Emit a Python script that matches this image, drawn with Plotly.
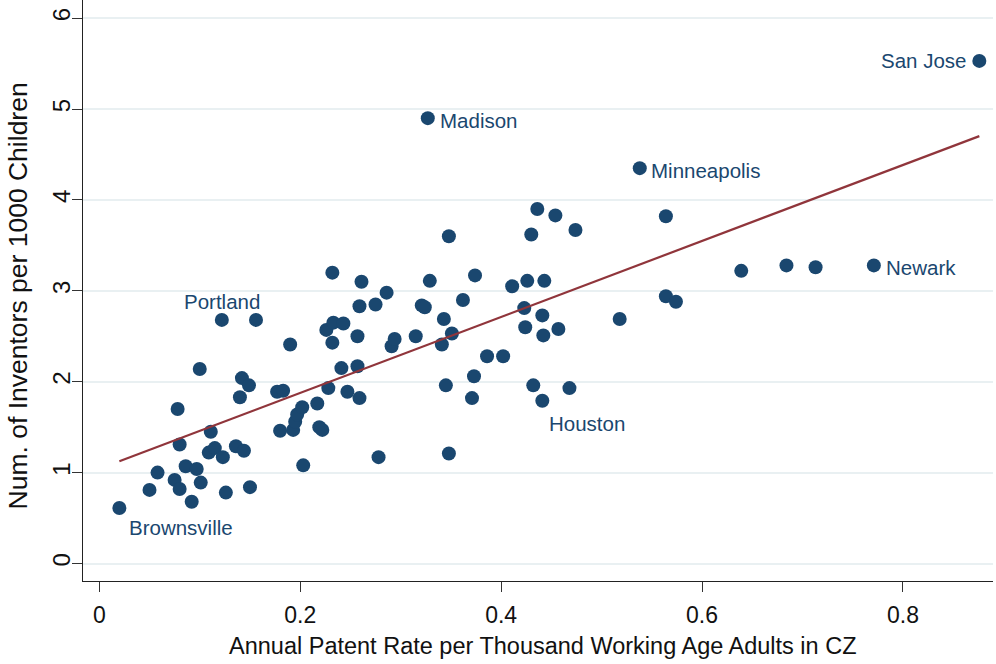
import numpy as np
import plotly.graph_objects as go

# Annual patent rate per thousand working-age adults, by commuting zone
patent_rate = [
    0.020, 0.050, 0.058, 0.075, 0.078, 0.080, 0.080, 0.086, 0.092, 0.097,
    0.100, 0.101, 0.109, 0.111, 0.115, 0.122, 0.123, 0.126, 0.136, 0.140,
    0.142, 0.144, 0.149, 0.150, 0.156, 0.177, 0.180, 0.183, 0.190, 0.193,
    0.195, 0.197, 0.202, 0.203, 0.217, 0.219, 0.222, 0.226, 0.228, 0.232,
    0.232, 0.233, 0.241, 0.243, 0.247, 0.257, 0.257, 0.259, 0.259, 0.261,
    0.275, 0.278, 0.286, 0.291, 0.294, 0.315, 0.321, 0.324, 0.327, 0.329,
    0.341, 0.343, 0.345, 0.348, 0.348, 0.351, 0.362, 0.371, 0.373, 0.374,
    0.386, 0.402, 0.411, 0.423, 0.424, 0.426, 0.430, 0.432, 0.436, 0.441,
    0.441, 0.442, 0.443, 0.454, 0.457, 0.468, 0.474, 0.518, 0.538, 0.564,
    0.564, 0.574, 0.639, 0.684, 0.713, 0.771, 0.876,
]

# Inventors per 1000 children, same commuting zones
inventors = [
    0.61, 0.81, 1.00, 0.92, 1.70, 1.31, 0.82, 1.07, 0.68, 1.04,
    2.14, 0.89, 1.22, 1.45, 1.27, 2.68, 1.17, 0.78, 1.29, 1.83,
    2.04, 1.24, 1.96, 0.84, 2.68, 1.89, 1.46, 1.90, 2.41, 1.47,
    1.56, 1.64, 1.72, 1.08, 1.76, 1.50, 1.47, 2.57, 1.93, 3.20,
    2.43, 2.65, 2.15, 2.64, 1.89, 2.50, 2.17, 1.82, 2.83, 3.10,
    2.85, 1.17, 2.98, 2.39, 2.47, 2.50, 2.84, 2.82, 4.90, 3.11,
    2.41, 2.69, 1.96, 3.60, 1.21, 2.53, 2.90, 1.82, 2.06, 3.17,
    2.28, 2.28, 3.05, 2.81, 2.60, 3.11, 3.62, 1.96, 3.90, 1.79,
    2.73, 2.51, 3.11, 3.83, 2.58, 1.93, 3.67, 2.69, 4.35, 3.82,
    2.94, 2.88, 3.22, 3.28, 3.26, 3.28, 5.53,
]

# Named commuting zones -> index of their point
labelled_cz = {
    "Brownsville": 0,
    "Portland": 15,
    "Madison": 58,
    "Houston": 79,
    "Minneapolis": 88,
    "Newark": 95,
    "San Jose": 96,
}

x_ticks = [0, 0.2, 0.4, 0.6, 0.8]
x_tick_text = ["0", "0.2", "0.4", "0.6", "0.8"]
y_ticks = [0, 1, 2, 3, 4, 5, 6]

# label placement: (xanchor, xshift, yshift)
label_style = {
    "Brownsville": ("left", 8, -19),
    "Portland": ("center", 0, 18),
    "Madison": ("left", 10, -2),
    "Houston": ("left", 5, -23),
    "Minneapolis": ("left", 9, -2),
    "Newark": ("left", 10, -2),
    "San Jose": ("right", -11, 0),
}

NAVY = "#1a476f"
MAROON = "#90353b"
FONT = "Liberation Sans, Arial, sans-serif"

W, H = 996, 664
ML, MR, MT, MB = 83, 3, 0, 83
PW, PH = W - ML - MR, H - MT - MB

x_arr = np.array(patent_rate)
y_arr = np.array(inventors)
slope, intercept = np.polyfit(x_arr, y_arr, 1)
fit_x = np.array([x_arr.min(), x_arr.max()])
fit_y = intercept + slope * fit_x

fig = go.Figure()
fig.add_trace(go.Scatter(
    x=patent_rate, y=inventors, mode="markers",
    marker=dict(size=14, color=NAVY, line=dict(width=0)),
    hoverinfo="skip", showlegend=False,
))
fig.add_trace(go.Scatter(
    x=fit_x, y=fit_y, mode="lines",
    line=dict(color=MAROON, width=2.2),
    hoverinfo="skip", showlegend=False,
))

annotations = []
for name, idx in labelled_cz.items():
    xa, xs, ys = label_style[name]
    annotations.append(dict(
        x=patent_rate[idx], y=inventors[idx], xref="x", yref="y",
        text=name, showarrow=False, xanchor=xa, yanchor="middle",
        xshift=xs, yshift=ys,
        font=dict(family=FONT, size=20.5, color=NAVY),
    ))

annotations.append(dict(
    text="Annual Patent Rate per Thousand Working Age Adults in CZ",
    xref="paper", yref="paper", x=(543 - ML) / PW, y=(PH - 646 + MT) / PH,
    xanchor="center", yanchor="middle", showarrow=False,
    font=dict(family=FONT, size=23.5, color="#111111"),
))
annotations.append(dict(
    text="Num. of Inventors per 1000 Children",
    xref="paper", yref="paper", x=(17 - ML) / PW, y=(PH - 296.5 + MT) / PH,
    xanchor="center", yanchor="middle", showarrow=False, textangle=-90,
    font=dict(family=FONT, size=26.5, color="#111111"),
))

fig.update_layout(
    width=W, height=H,
    margin=dict(l=ML, r=MR, t=MT, b=MB),
    paper_bgcolor="white", plot_bgcolor="white",
    annotations=annotations,
    xaxis=dict(
        range=[-0.0162, 0.8896], tickvals=x_ticks, ticktext=x_tick_text,
        ticks="outside", ticklen=10, tickwidth=1.3, tickcolor="#333333",
        showline=True, linecolor="#222222", linewidth=1.3,
        showgrid=False, zeroline=False,
        tickfont=dict(family=FONT, size=23, color="#111111"),
        ticklabelstandoff=3,
    ),
    yaxis=dict(
        range=[-0.1925, 6.2], tickvals=y_ticks, tickangle=-90,
        ticks="outside", ticklen=10, tickwidth=1.3, tickcolor="#333333",
        showline=True, linecolor="#222222", linewidth=1.3,
        showgrid=True, gridcolor="#e9f0f2", gridwidth=1.5, zeroline=False,
        tickfont=dict(family=FONT, size=24, color="#111111"),
        ticklabelstandoff=-8,
    ),
)

fig.write_html("out.html")
